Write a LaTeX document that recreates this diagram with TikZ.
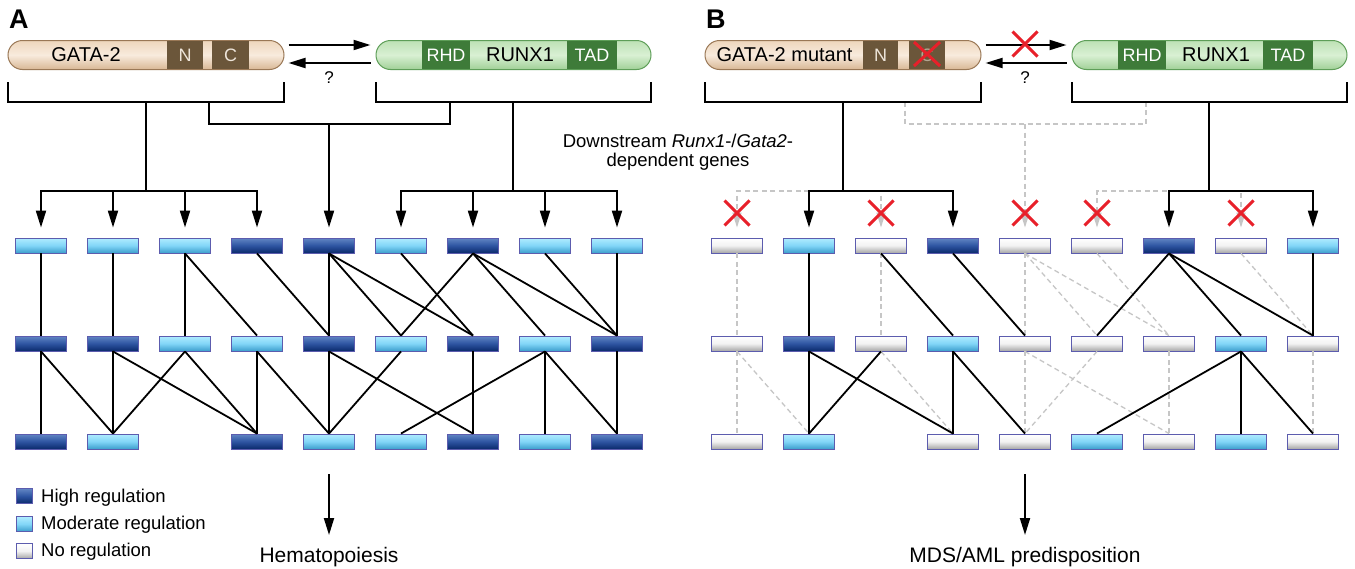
\documentclass[tikz,border=0pt]{standalone}
\usepackage{fontspec}
\setmainfont{Liberation Sans}
\usetikzlibrary{arrows.meta,shapes.misc}
\newcommand\myfs[1]{\fontsize{#1pt}{#1pt}\selectfont}
\definecolor{hiT}{HTML}{6286C4}
\definecolor{hiM}{HTML}{2E55A2}
\definecolor{hiB}{HTML}{0B2A6C}
\definecolor{moT}{HTML}{B0ECFF}
\definecolor{moM}{HTML}{82D6F8}
\definecolor{moB}{HTML}{3C9ECC}
\definecolor{noT}{HTML}{FFFFFF}
\definecolor{noM}{HTML}{F2F2F2}
\definecolor{noB}{HTML}{A6A6A6}
\definecolor{boxB}{HTML}{5C5CAE}
\definecolor{peT}{HTML}{EED6BC}
\definecolor{peM}{HTML}{F8EBDD}
\definecolor{peB}{HTML}{D8B794}
\definecolor{peD}{HTML}{9A7856}
\definecolor{brn}{HTML}{6B563A}
\definecolor{brnT}{HTML}{EEE5DA}
\definecolor{grT}{HTML}{BDE2B5}
\definecolor{grM}{HTML}{D9F0D3}
\definecolor{grB}{HTML}{A0D097}
\definecolor{grD}{HTML}{5E9E58}
\definecolor{dgr}{HTML}{3E7B39}
\definecolor{dgray}{HTML}{C6C6C6}
\definecolor{xred}{HTML}{E8202A}
\tikzset{
  gene/.style={draw=boxB, line width=0.9pt, minimum width=51pt, minimum height=15pt, inner sep=0pt},
  high/.style={gene, top color=hiT, bottom color=hiB, middle color=hiM},
  mod/.style={gene, top color=moT, bottom color=moB, middle color=moM},
  nor/.style={gene, top color=noT, bottom color=noB, middle color=noM},
  pillG/.style={rounded corners=14.5pt, draw=peD, line width=1pt, minimum height=29pt, inner sep=0pt, top color=peT, bottom color=peB, middle color=peM},
  pillR/.style={rounded corners=14.5pt, draw=grD, line width=1pt, minimum height=29pt, inner sep=0pt, top color=grT, bottom color=grB, middle color=grM},
  segG/.style={fill=brn, text=brnT, minimum height=27.5pt, inner sep=0pt, font=\myfs{18}},
  segR/.style={fill=dgr, text=white, minimum height=27.5pt, inner sep=0pt, font=\myfs{18}},
  ptext/.style={font=\myfs{20}, inner sep=0pt},
  conn/.style={line width=2pt, black},
  tarr/.style={conn, -{Triangle[length=17pt,width=10pt]}},
  arr/.style={conn, -{Triangle[length=17pt,width=10pt]}, shorten >=10pt},
  dconn/.style={line width=1.3pt, draw=dgray, dash pattern=on 5pt off 3.5pt},
  darr/.style={dconn, -{Triangle[length=15pt,width=9pt,fill=dgray]}, shorten >=10pt},
  edge/.style={line width=1.8pt, black},
  dedge/.style={line width=1.3pt, draw=dgray, dash pattern=on 5pt off 3.5pt},
  redx/.style={cross out, draw=xred, line width=3pt, minimum width=22pt, minimum height=22pt, inner sep=0pt},
  lgtext/.style={anchor=base west, font=\myfs{18.5}, inner sep=0pt},
}
\begin{document}
\begin{tikzpicture}[x=1pt,y=-1pt]
\useasboundingbox[fill=white] (0,0) rectangle (1355,568);

% ---------- panel labels
\node[anchor=base west, inner sep=0pt, font=\bfseries\myfs{27}] (labA) at (9,28) {A};
\node[anchor=base west, inner sep=0pt, font=\bfseries\myfs{27}] (labB) at (706,28) {B};

% ---------- panel A proteins
\node[pillG, minimum width=276pt] (gata) at (146,55) {};
\node[segG, minimum width=36pt] (gN) at (185,55) {N};
\node[segG, minimum width=37pt] (gC) at (230.5,55) {C};
\node[ptext] (gT) at (86,55) {GATA-2};
\node[pillR, minimum width=275pt] (runx) at (513.5,55) {};
\node[segR, minimum width=48pt] (rRHD) at (446,55) {RHD};
\node[segR, minimum width=50pt] (rTAD) at (592,55) {TAD};
\node[ptext] (rT) at (520,55) {RUNX1};
\draw[tarr] ([xshift=4pt,yshift=10pt]gata.east) -- ([xshift=-5pt,yshift=10pt]runx.west);
\draw[tarr] ([xshift=-5pt,yshift=-8pt]runx.west) -- ([xshift=4pt,yshift=-8pt]gata.east);
\node[font=\myfs{17}, inner sep=0pt] (qA) at (329,78) {?};

% ---------- panel B proteins
\node[pillG, minimum width=276pt] (gataB) at (843,55) {};
\node[segG, minimum width=35pt] (gNB) at (880.5,55) {N};
\node[segG, minimum width=36pt, text=brnT!55!brn] (gCB) at (927,55) {C};
\node[ptext] (gTB) at (784.5,55) {GATA-2 mutant};
\node[redx, minimum width=23pt, minimum height=21pt] (xC) at (927,54) {};
\node[pillR, minimum width=275pt] (runxB) at (1209.5,55) {};
\node[segR, minimum width=48pt] (rRHDB) at (1142,55) {RHD};
\node[segR, minimum width=50pt] (rTADB) at (1288,55) {TAD};
\node[ptext] (rTB) at (1216,55) {RUNX1};
\draw[tarr] ([xshift=4pt,yshift=10pt]gataB.east) -- ([xshift=-5pt,yshift=10pt]runxB.west);
\draw[tarr] ([xshift=-5pt,yshift=-8pt]runxB.west) -- ([xshift=4pt,yshift=-8pt]gataB.east);
\node[redx, minimum width=22pt, minimum height=22pt] (xArr) at (1025,44) {};
\node[font=\myfs{17}, inner sep=0pt] (qB) at (1025,78) {?};

% ---------- text in middle
\node[anchor=base, inner sep=0pt, font=\myfs{18.5}] (down1) at (678,147) {Downstream \textit{Runx1}-/\textit{Gata2}-};
\node[anchor=base, inner sep=0pt, font=\myfs{18.5}] (down2) at (678,166) {dependent genes};

% ---------- gene boxes panel A
\foreach \t [count=\c] in {mod,mod,mod,high,high,mod,high,mod,mod}
  \node[\t] (a-1-\c) at ({41+72*(\c-1)},245.5) {};
\foreach \t [count=\c] in {high,high,mod,mod,high,mod,high,mod,high}
  \node[\t] (a-2-\c) at ({41+72*(\c-1)},343.5) {};
\foreach \t/\c in {high/1,mod/2,high/4,mod/5,mod/6,high/7,mod/8,high/9}
  \node[\t] (a-3-\c) at ({41+72*(\c-1)},441.5) {};

% ---------- gene boxes panel B
\foreach \t [count=\c] in {nor,mod,nor,high,nor,nor,high,nor,mod}
  \node[\t] (b-1-\c) at ({737+72*(\c-1)},245.5) {};
\foreach \t [count=\c] in {nor,high,nor,mod,nor,nor,nor,mod,nor}
  \node[\t] (b-2-\c) at ({737+72*(\c-1)},343.5) {};
\foreach \t/\c in {nor/1,mod/2,nor/4,nor/5,mod/6,nor/7,mod/8,nor/9}
  \node[\t] (b-3-\c) at ({737+72*(\c-1)},441.5) {};

% ---------- connectors panel A
\coordinate (aGl) at (8,82);   \coordinate (aGr) at (284,82);
\coordinate (aGs) at (146,102); \coordinate (aGh) at (146,191);
\coordinate (aRl) at (376,82); \coordinate (aRr) at (651,82);
\coordinate (aRs) at (513,102); \coordinate (aRh) at (513,191);
\coordinate (aMl) at (209,102); \coordinate (aMr) at (450,102);
\coordinate (aMs) at (329,124);
\draw[conn] (aGl) |- (aGs) -| (aGr);
\draw[conn] (aRl) |- (aRs) -| (aRr);
\draw[conn] (aGs) -- (aGh);
\draw[conn] (aRs) -- (aRh);
\draw[conn] (aMl) |- (aMs) -| (aMr);
\draw[arr] (aMs) -- (a-1-5.north);
\foreach \c in {1,2,3,4} \draw[arr] (aGh) -| (a-1-\c.north);
\foreach \c in {6,7,8,9} \draw[arr] (aRh) -| (a-1-\c.north);

% ---------- connectors panel B
\coordinate (bGl) at (705,82);   \coordinate (bGr) at (981,82);
\coordinate (bGs) at (843,102); \coordinate (bGh) at (843,191);
\coordinate (bRl) at (1072,82); \coordinate (bRr) at (1347,82);
\coordinate (bRs) at (1209,102); \coordinate (bRh) at (1209,191);
\coordinate (bMl) at (905,102); \coordinate (bMr) at (1146,102);
\coordinate (bMs) at (1025,124);
\draw[dconn] (bMl) |- (bMs) -| (bMr);
\draw[darr] (bMs) -- (b-1-5.north);
\foreach \c in {1,3} \draw[darr] (bGh) -| (b-1-\c.north);
\foreach \c in {6,8} \draw[darr] (bRh) -| (b-1-\c.north);
\draw[conn] (bGl) |- (bGs) -| (bGr);
\draw[conn] (bRl) |- (bRs) -| (bRr);
\draw[conn] (bGs) -- (bGh);
\draw[conn] (bRs) -- (bRh);
\foreach \c in {2,4} \draw[arr] (bGh) -| (b-1-\c.north);
\foreach \c in {7,9} \draw[arr] (bRh) -| (b-1-\c.north);
\foreach \c [count=\i] in {1,3,5,6,8}
  \node[redx] (xg-\i) at ({737+72*(\c-1)},213) {};

% ---------- network edges panel A
\foreach \s/\d in {1/1,2/2,3/3,3/4,4/5,5/5,5/6,5/7,6/7,7/6,7/8,7/9,8/9,9/9}
  \draw[edge] (a-1-\s.south) -- (a-2-\d.north);
\foreach \s/\d in {1/1,1/2,2/2,2/4,3/2,3/4,4/4,4/5,5/5,5/7,6/5,7/7,8/6,8/8,8/9,9/9}
  \draw[edge] (a-2-\s.south) -- (a-3-\d.north);

% ---------- network edges panel B
\foreach \s/\d in {1/1,3/3,5/5,5/6,5/7,6/7,8/9}
  \draw[dedge] (b-1-\s.south) -- (b-2-\d.north);
\foreach \s/\d in {1/1,1/2,3/4,5/5,5/7,6/5,7/7,9/9}
  \draw[dedge] (b-2-\s.south) -- (b-3-\d.north);
\foreach \s/\d in {2/2,3/4,4/5,7/6,7/8,7/9,9/9}
  \draw[edge] (b-1-\s.south) -- (b-2-\d.north);
\foreach \s/\d in {2/2,2/4,3/2,4/4,4/5,8/6,8/8,8/9}
  \draw[edge] (b-2-\s.south) -- (b-3-\d.north);

% ---------- outcomes
\coordinate (aOut) at (329,474); \coordinate (aTip) at (329,535);
\coordinate (bOut) at (1025,474); \coordinate (bTip) at (1025,535);
\draw[tarr] (aOut) -- (aTip);
\draw[tarr] (bOut) -- (bTip);
\node[anchor=base, inner sep=0pt, font=\myfs{21}] (hemat) at (329,562) {Hematopoiesis};
\node[anchor=base, inner sep=0pt, font=\myfs{21}] (mds) at (1025,562) {MDS/AML predisposition};

% ---------- legend
\node[high, minimum width=16pt, minimum height=15pt] (lgH) at (24,496) {};
\node[mod, minimum width=16pt, minimum height=15pt] (lgM) at (24,524) {};
\node[nor, minimum width=16pt, minimum height=15pt] (lgN) at (24,551) {};
\node[lgtext] (lgHt) at (41,502.5) {High regulation};
\node[lgtext] (lgMt) at (41,529.5) {Moderate regulation};
\node[lgtext] (lgNt) at (41,556.5) {No regulation};
\end{tikzpicture}
\end{document}
